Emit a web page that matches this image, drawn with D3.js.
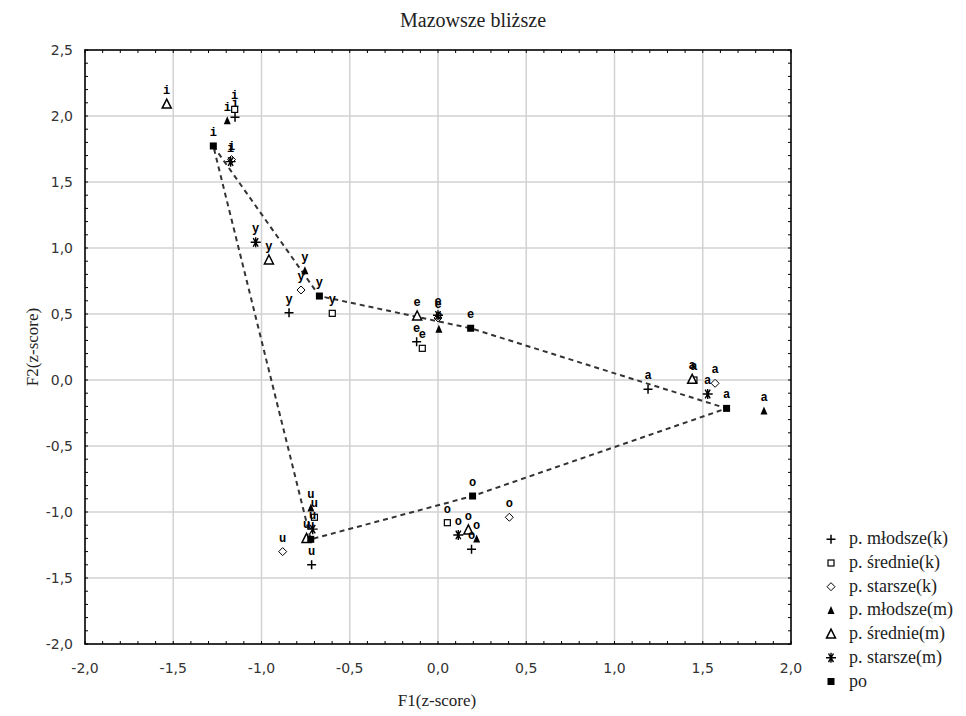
<!DOCTYPE html>
<html>
<head>
<meta charset="utf-8">
<script src="https://cdn.jsdelivr.net/npm/d3@7"></script>
<style>
  body { margin: 0; background: #fff; }
  svg { display: block; }
</style>
</head>
<body>
<div id="chart"></div>
<script>
// vowels in the same order as every series below
let vowels = ["i", "y", "e", "a", "o", "u"];

let seriesNames = ["p. młodsze(k)", "p. średnie(k)", "p. starsze(k)",
                   "p. młodsze(m)", "p. średnie(m)", "p. starsze(m)", "po"];

let mlodszeK_f1 = [-1.15, -0.844, -0.121, 1.19, 0.19, -0.716];
let mlodszeK_f2 = [1.99, 0.51, 0.29, -0.07, -1.283, -1.40];

let srednieK_f1 = [-1.152, -0.599, -0.089, 1.45, 0.053, -0.70];
let srednieK_f2 = [2.05, 0.505, 0.24, 0.0, -1.081, -1.04];

let starszeK_f1 = [-1.17, -0.776, 0.0, 1.57, 0.404, -0.88];
let starszeK_f2 = [1.67, 0.682, 0.47, -0.025, -1.04, -1.30];

let mlodszeM_f1 = [-1.194, -0.754, 0.005, 1.847, 0.219, -0.72];
let mlodszeM_f2 = [1.964, 0.828, 0.384, -0.235, -1.205, -0.97];

let srednieM_f1 = [-1.537, -0.958, -0.118, 1.44, 0.172, -0.745];
let srednieM_f2 = [2.09, 0.909, 0.485, 0.005, -1.136, -1.2];

let starszeM_f1 = [-1.175, -1.033, 0.0, 1.528, 0.115, -0.71];
let starszeM_f2 = [1.654, 1.043, 0.49, -0.106, -1.174, -1.13];

let po_f1 = [-1.273, -0.672, 0.185, 1.635, 0.196, -0.721];
let po_f2 = [1.773, 0.636, 0.392, -0.215, -0.879, -1.207];

// polygon through the "po" points
let polygonOrder = ["i", "y", "e", "a", "o", "u", "i"];

let xTicks = [-2.0, -1.5, -1.0, -0.5, 0.0, 0.5, 1.0, 1.5, 2.0];
let yTicks = [-2.0, -1.5, -1.0, -0.5, 0.0, 0.5, 1.0, 1.5, 2.0, 2.5];

let width = 966, height = 716;
let plot = {left: 85, right: 791, top: 50, bottom: 644};

let svg = d3.select("#chart").append("svg")
    .attr("width", width)
    .attr("height", height);

let x = d3.scaleLinear().domain([-2, 2]).range([plot.left, plot.right]);
let y = d3.scaleLinear().domain([-2, 2.5]).range([plot.bottom, plot.top]);

let fmt = v => d3.format(".1f")(v).replace(".", ",").replace("−", "-");

// grid
let grid = svg.append("g").attr("stroke", "#d2d2d2").attr("stroke-width", 1.5);
grid.selectAll(".gx").data(xTicks.slice(1, -1)).enter().append("line")
    .attr("x1", d => x(d)).attr("x2", d => x(d))
    .attr("y1", plot.top).attr("y2", plot.bottom);
grid.selectAll(".gy").data(yTicks.slice(1, -1)).enter().append("line")
    .attr("y1", d => y(d)).attr("y2", d => y(d))
    .attr("x1", plot.left).attr("x2", plot.right);

// inward minor ticks on all four sides
let minorX = d3.range(-20, 21).map(d => d / 10);
let minorY = d3.range(-20, 26).map(d => d / 10);
let tickLen = 3;
let ticks = svg.append("g").attr("stroke", "#000").attr("stroke-width", 1);
ticks.selectAll(".tb").data(minorX).enter().append("line")
    .attr("x1", d => x(d)).attr("x2", d => x(d))
    .attr("y1", plot.bottom).attr("y2", plot.bottom - tickLen);
ticks.selectAll(".tt").data(minorX).enter().append("line")
    .attr("x1", d => x(d)).attr("x2", d => x(d))
    .attr("y1", plot.top).attr("y2", plot.top + tickLen);
ticks.selectAll(".tl").data(minorY).enter().append("line")
    .attr("y1", d => y(d)).attr("y2", d => y(d))
    .attr("x1", plot.left).attr("x2", plot.left + tickLen);
ticks.selectAll(".tr").data(minorY).enter().append("line")
    .attr("y1", d => y(d)).attr("y2", d => y(d))
    .attr("x1", plot.right).attr("x2", plot.right - tickLen);

// frame
svg.append("rect")
    .attr("x", plot.left).attr("y", plot.top)
    .attr("width", plot.right - plot.left).attr("height", plot.bottom - plot.top)
    .attr("fill", "none").attr("stroke", "#000").attr("stroke-width", 1.6);

// tick labels
let tickFont = "'DejaVu Sans', Verdana, sans-serif";
svg.append("g").selectAll("text").data(xTicks).enter().append("text")
    .attr("x", d => x(d)).attr("y", plot.bottom + 29)
    .attr("text-anchor", "middle")
    .style("font-family", tickFont).style("font-size", "14px").attr("fill", "#333")
    .text(fmt);
svg.append("g").selectAll("text").data(yTicks).enter().append("text")
    .attr("x", plot.left - 12).attr("y", d => y(d) + 5)
    .attr("text-anchor", "end")
    .style("font-family", tickFont).style("font-size", "14px").attr("fill", "#333")
    .text(fmt);

// titles
let serif = "'Liberation Serif', 'Times New Roman', serif";
svg.append("text")
    .attr("x", 473).attr("y", 27)
    .attr("text-anchor", "middle")
    .style("font-family", serif).style("font-size", "20px").attr("fill", "#222")
    .text("Mazowsze bliższe");
svg.append("text")
    .attr("x", 437).attr("y", 706)
    .attr("text-anchor", "middle")
    .style("font-family", serif).style("font-size", "17px").attr("fill", "#222")
    .text("F1(z-score)");
svg.append("text")
    .attr("transform", `translate(38, ${(plot.top + plot.bottom) / 2}) rotate(-90)`)
    .attr("text-anchor", "middle")
    .style("font-family", serif).style("font-size", "17px").attr("fill", "#222")
    .text("F2(z-score)");

// marker shapes
let markers = {
    plus: g => g.append("path").attr("d", "M-4.5,0H4.5M0,-4.5V4.5")
        .attr("stroke", "#000").attr("stroke-width", 1.5).attr("fill", "none"),
    openSquare: g => g.append("rect").attr("x", -3).attr("y", -3).attr("width", 6).attr("height", 6)
        .attr("stroke", "#000").attr("stroke-width", 1.2).attr("fill", "#fff"),
    diamond: g => g.append("path").attr("d", "M0,-4L4,0L0,4L-4,0Z")
        .attr("stroke", "#000").attr("stroke-width", 1).attr("fill", "#fff"),
    filledTriangle: g => g.append("path").attr("d", "M0,-4.5L3.5,3.5L-3.5,3.5Z")
        .attr("fill", "#000"),
    openTriangle: g => g.append("path").attr("d", "M0,-5L4.5,4L-4.5,4Z")
        .attr("stroke", "#000").attr("stroke-width", 1.5).attr("fill", "#fff"),
    asterisk: g => g.append("path").attr("d", "M-5,0H5M-2.5,-4.3L2.5,4.3M-2.5,4.3L2.5,-4.3M0,-5V5")
        .attr("stroke", "#000").attr("stroke-width", 1.4).attr("fill", "none"),
    filledSquare: g => g.append("rect").attr("x", -3.5).attr("y", -3.5).attr("width", 7).attr("height", 7)
        .attr("fill", "#000")
};

let series = [
    {name: seriesNames[0], f1: mlodszeK_f1, f2: mlodszeK_f2, marker: "plus"},
    {name: seriesNames[1], f1: srednieK_f1, f2: srednieK_f2, marker: "openSquare"},
    {name: seriesNames[2], f1: starszeK_f1, f2: starszeK_f2, marker: "diamond"},
    {name: seriesNames[3], f1: mlodszeM_f1, f2: mlodszeM_f2, marker: "filledTriangle"},
    {name: seriesNames[4], f1: srednieM_f1, f2: srednieM_f2, marker: "openTriangle"},
    {name: seriesNames[5], f1: starszeM_f1, f2: starszeM_f2, marker: "asterisk"},
    {name: seriesNames[6], f1: po_f1, f2: po_f2, marker: "filledSquare"}
];

// dashed polygon through po
let line = d3.line().x(d => x(d[0])).y(d => y(d[1]));
let polyPts = polygonOrder.map(v => {
    let i = vowels.indexOf(v);
    return [po_f1[i], po_f2[i]];
});
svg.append("path")
    .attr("d", line(polyPts))
    .attr("fill", "none")
    .attr("stroke", "#333")
    .attr("stroke-width", 2)
    .attr("stroke-dasharray", "5,4");

// points
let points = svg.append("g");
series.forEach(s => {
    vowels.forEach((v, i) => {
        let g = points.append("g")
            .attr("transform", `translate(${x(s.f1[i])}, ${y(s.f2[i])})`);
        markers[s.marker](g);
    });
});

// vowel labels above each point
let labels = svg.append("g");
series.forEach(s => {
    vowels.forEach((v, i) => {
        labels.append("text")
            .attr("x", x(s.f1[i]))
            .attr("y", y(s.f2[i]) - 10)
            .attr("text-anchor", "middle")
            .style("font-family", "'Liberation Mono', 'Courier New', monospace")
            .style("font-size", "12px")
            .style("font-weight", "bold")
            .attr("fill", "#000")
            .text(v);
    });
});

// legend
let legend = svg.append("g");
series.forEach((s, i) => {
    let ly = 539.3 + i * 23.7;
    let g = legend.append("g").attr("transform", `translate(831, ${ly})`);
    markers[s.marker](g);
    legend.append("text")
        .attr("x", 849).attr("y", ly + 5)
        .style("font-family", serif).style("font-size", "18px").attr("fill", "#222")
        .text(s.name);
});
</script>
</body>
</html>
